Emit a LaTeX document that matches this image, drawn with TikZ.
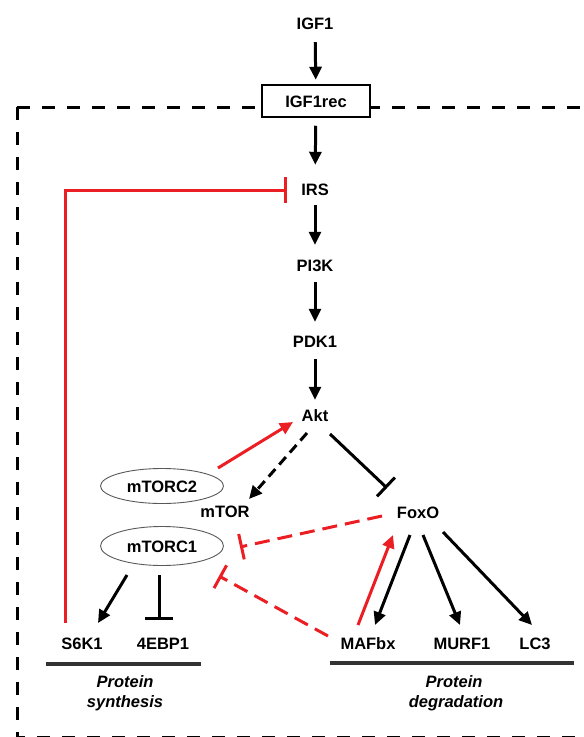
\documentclass[tikz,border=0pt]{standalone}
\usepackage{fontspec}
\setmainfont{Liberation Sans}
\usetikzlibrary{arrows.meta,shapes.geometric}
\definecolor{inhred}{RGB}{235,30,35}
\begin{document}
\begin{tikzpicture}[x=1pt,y=-1pt,
  lbl/.style={inner sep=0pt, text height=12pt, text depth=0pt, font=\fontsize{16.5}{19}\selectfont\bfseries},
  ital/.style={inner sep=0pt, text height=12pt, text depth=3pt, font=\fontsize{16.5}{19}\selectfont\bfseries\itshape},
  recbox/.style={lbl, draw, line width=1.5pt, fill=white, minimum width=108pt, minimum height=32pt},
  cplx/.style={lbl, ellipse, draw=black!65, line width=0.9pt, minimum width=123pt},
  act/.style={line width=3pt, -{Triangle[length=13pt,width=12pt]}},
  inh/.style={line width=3pt, -{Bar[width=26pt]}},
  inhwide/.style={line width=3pt, -{Bar[width=28pt]}},
  bdash/.style={dash pattern=on 10pt off 6pt},
  rdash/.style={dash pattern=on 15pt off 8pt},
  membrane/.style={line width=3pt, dash pattern=on 13pt off 12pt},
  uline/.style={line width=4pt, black!80}
]
\useasboundingbox (0,0) rectangle (584,737);

% membrane / cell boundary
\coordinate (corner) at (17,107);
\coordinate (rightend) at (610,107);
\coordinate (botleft) at (17,737);
\coordinate (botright) at (610,737);
\draw[membrane] (corner) -- (rightend);
\draw[membrane] (corner) -- (botleft) -- (botright);

% nodes
\node[lbl] (IGF1) at (315,23) {IGF1};
\node[recbox] (IGF1rec) at (316,101) {IGF1rec};
\node[lbl] (IRS) at (315,189) {IRS};
\node[lbl] (PI3K) at (315,265) {PI3K};
\node[lbl] (PDK1) at (315,341) {PDK1};
\node[lbl] (Akt) at (315,415) {Akt};
\node[cplx, minimum height=35pt] (mTORC2) at (162,486) {mTORC2};
\node[lbl] (mTOR) at (225,511) {mTOR};
\node[cplx, minimum height=39pt] (mTORC1) at (162,546) {mTORC1};
\node[lbl] (FoxO) at (418,512) {FoxO};
\node[lbl] (S6K1) at (82,643) {S6K1};
\node[lbl] (EBP) at (163,643) {4EBP1};
\node[lbl] (MAFbx) at (368,643) {MAFbx};
\node[lbl] (MURF1) at (462,643) {MURF1};
\node[lbl] (LC3) at (535,643) {LC3};
\node[ital] (syn1) at (125,683) {Protein};
\node[ital] (syn2) at (125,703) {synthesis};
\node[ital] (deg1) at (454,683) {Protein};
\node[ital] (deg2) at (456,703) {degradation};

% main cascade
\draw[act, shorten <=13pt, shorten >=4.5pt] (IGF1) -- (IGF1rec);
\draw[act, shorten <=8pt, shorten >=18pt] (IGF1rec) -- (IRS);
\draw[act, shorten <=10pt, shorten >=14pt] (IRS) -- (PI3K);
\draw[act, shorten <=11pt, shorten >=13pt] (PI3K) -- (PDK1);
\draw[act, shorten <=12pt, shorten >=9pt] (PDK1) -- (Akt);

% connector end points
\coordinate (s6top) at (65,623);
\coordinate (irsbar) at (287,190);
\coordinate (c2out) at (218,468);
\coordinate (aktin) at (293,422);
\coordinate (aktout1) at (307,433);
\coordinate (mtorin) at (249,499);
\coordinate (aktout2) at (330,434);
\coordinate (foxobar) at (387,488);
\coordinate (foxoout1) at (382,516);
\coordinate (mtorbar) at (240,547);
\coordinate (mafout1) at (328,636);
\coordinate (c1bar) at (219,576);
\coordinate (mafout2) at (358,625);
\coordinate (foxoin) at (393,535);
\coordinate (foxoout2) at (410,535);
\coordinate (mafin) at (375,625);
\coordinate (foxoout3) at (423,535);
\coordinate (murfin) at (460,625);
\coordinate (foxoout4) at (443,532);
\coordinate (lc3in) at (532,625);
\coordinate (c1out1) at (127,575);
\coordinate (s6in) at (98,623);
\coordinate (c1out2) at (159,575);
\coordinate (ebpbar) at (159,620);

% feedback and cross-talk
\draw[inh, inhred] (s6top) |- (irsbar);
\draw[act, inhred] (c2out) -- (aktin);
\draw[act, bdash] (aktout1) -- (mtorin);
\draw[inh] (aktout2) -- (foxobar);
\draw[inh, inhred, rdash] (foxoout1) -- (mtorbar);
\draw[inh, inhred, rdash] (mafout1) -- (c1bar);
\draw[act, inhred] (mafout2) -- (foxoin);
\draw[act] (foxoout2) -- (mafin);
\draw[act] (foxoout3) -- (murfin);
\draw[act] (foxoout4) -- (lc3in);
\draw[act] (c1out1) -- (s6in);
\draw[inhwide] (c1out2) -- (ebpbar);

% output groups
\coordinate (synL) at (46,664);
\coordinate (synR) at (201,664);
\coordinate (degL) at (330,663);
\coordinate (degR) at (574,663);
\draw[uline] (synL) -- (synR);
\draw[uline] (degL) -- (degR);
\end{tikzpicture}
\end{document}
